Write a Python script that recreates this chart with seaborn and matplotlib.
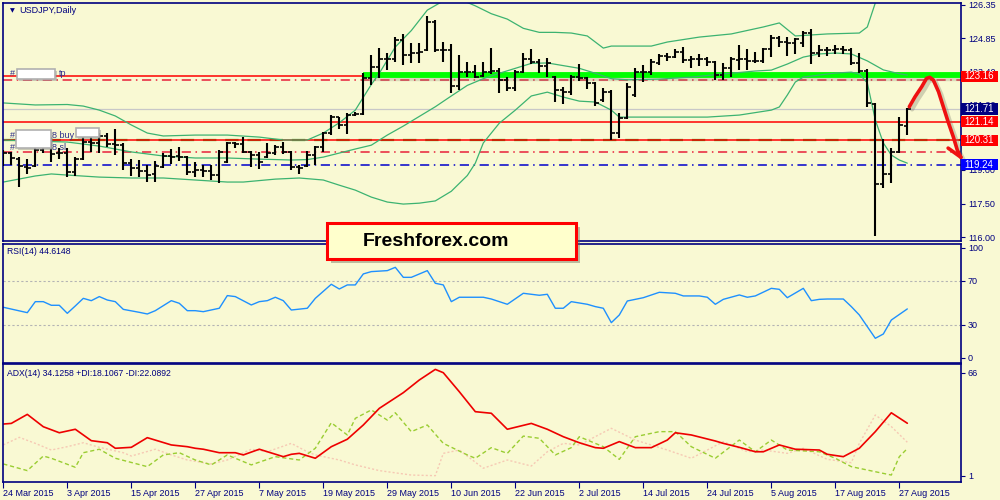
import matplotlib
matplotlib.use("Agg")
import numpy as np
import pandas as pd
import seaborn as sns
import matplotlib.pyplot as plt
from matplotlib.patches import Rectangle
from matplotlib.transforms import blended_transform_factory

# ---- price bars (USDJPY daily, 24 Mar .. 28 Aug 2015) ----
opens = [119.22, 119.74, 119.47, 119.14, 119.19, 119.88, 120.25, 119.74, 119.76, 118.92,
         119.50, 120.24, 120.21, 120.51, 120.15, 120.09, 119.29, 119.10, 118.96, 118.84,
         119.14, 119.62, 119.62, 119.59, 118.92, 118.99, 118.96, 118.77, 119.35, 120.18,
         120.15, 119.81, 119.66, 119.59, 119.74, 120.03, 119.81, 119.14, 119.17, 119.66,
         120.03, 120.63, 121.34, 121.00, 121.44, 121.49, 123.07, 123.59, 123.92, 123.92,
         124.78, 124.11, 124.19, 124.33, 125.60, 124.33, 124.33, 122.73, 123.37, 123.37,
         123.18, 123.37, 123.40, 123.00, 122.63, 123.37, 123.92, 123.82, 123.62, 123.12,
         122.55, 122.48, 123.15, 123.07, 122.85, 122.11, 122.48, 120.65, 121.29, 122.33,
         123.37, 123.37, 123.77, 124.07, 124.01, 124.26, 123.89, 123.92, 123.92, 123.80,
         123.22, 123.52, 123.89, 123.92, 123.86, 123.86, 124.36, 124.85, 124.71, 124.63,
         124.66, 125.11, 124.22, 124.33, 124.33, 124.36, 124.33, 123.77, 123.41, 121.93,
         118.37, 118.82, 119.81, 120.95]
highs = [119.88, 119.81, 119.56, 119.47, 120.03, 120.40, 120.48, 119.96, 119.96, 119.59,
         120.48, 120.70, 120.63, 120.65, 120.80, 120.18, 119.47, 119.44, 119.22, 119.41,
         119.76, 119.91, 120.03, 119.62, 119.36, 119.22, 119.22, 119.88, 120.25, 120.25,
         120.48, 119.85, 119.81, 120.18, 120.09, 120.25, 119.85, 119.22, 119.85, 120.06,
         120.70, 121.44, 121.37, 121.52, 121.58, 123.33, 124.11, 124.41, 124.19, 124.93,
         125.05, 124.63, 124.63, 125.85, 125.67, 124.71, 124.60, 124.11, 123.82, 123.67,
         123.82, 124.41, 123.52, 123.15, 123.44, 124.19, 124.36, 123.92, 123.96, 123.18,
         122.67, 123.22, 123.71, 123.15, 122.92, 122.63, 122.55, 121.52, 122.85, 123.52,
         123.67, 123.92, 124.16, 124.22, 124.36, 124.45, 124.07, 124.16, 124.04, 123.83,
         123.77, 124.04, 124.56, 124.36, 124.26, 124.41, 125.00, 124.96, 124.90, 124.85,
         125.20, 125.25, 124.56, 124.48, 124.56, 124.51, 124.41, 124.19, 123.47, 121.99,
         120.36, 119.96, 121.34, 121.74]
lows = [119.19, 119.22, 118.25, 118.84, 119.14, 119.74, 119.36, 119.47, 118.67, 118.74,
        119.44, 119.81, 119.74, 120.03, 119.66, 118.99, 118.74, 118.70, 118.47, 118.47,
        119.10, 119.26, 119.41, 118.77, 118.70, 118.70, 118.55, 118.43, 119.32, 119.96,
        119.74, 119.14, 119.02, 119.51, 119.65, 119.71, 118.99, 118.84, 119.14, 119.22,
        119.81, 120.55, 120.80, 120.60, 121.41, 121.44, 122.78, 123.07, 123.44, 123.82,
        123.67, 123.74, 123.74, 124.31, 124.26, 123.82, 122.41, 122.55, 123.12, 123.07,
        123.15, 123.27, 122.44, 122.52, 122.52, 123.30, 123.71, 123.30, 123.15, 122.04,
        121.93, 122.33, 122.97, 122.58, 121.84, 122.04, 120.33, 120.40, 121.25, 122.26,
        122.92, 123.22, 123.67, 123.86, 123.96, 123.74, 123.52, 123.62, 123.62, 123.00,
        123.00, 123.12, 123.44, 123.44, 123.74, 123.74, 124.01, 124.48, 124.07, 124.16,
        124.48, 123.71, 124.04, 124.07, 124.16, 124.16, 123.67, 123.33, 121.78, 116.06,
        118.18, 118.40, 119.74, 120.55]
closes = [119.74, 119.51, 119.19, 119.10, 119.88, 120.25, 119.71, 119.76, 118.92, 119.47,
          120.24, 120.21, 120.51, 120.15, 120.09, 119.29, 119.10, 118.96, 118.77, 119.17,
          119.62, 119.59, 119.59, 118.92, 118.99, 118.96, 118.77, 119.81, 120.18, 120.15,
          119.81, 119.66, 119.36, 119.74, 120.03, 119.81, 119.14, 119.07, 119.66, 120.00,
          120.63, 121.34, 121.00, 121.44, 121.49, 123.07, 123.59, 123.92, 123.92, 124.78,
          124.11, 124.19, 124.26, 125.60, 124.33, 124.33, 122.73, 123.37, 123.37, 123.15,
          123.37, 123.40, 123.00, 122.63, 123.37, 123.92, 123.82, 123.62, 123.77, 122.55,
          122.48, 123.15, 123.07, 122.85, 121.96, 122.48, 120.65, 121.29, 122.67, 123.37,
          123.37, 123.82, 124.07, 124.01, 124.26, 123.89, 123.92, 123.92, 123.80, 123.22,
          123.52, 123.92, 123.92, 123.86, 123.86, 124.36, 124.85, 124.71, 124.63, 124.81,
          125.11, 124.22, 124.33, 124.33, 124.36, 124.33, 123.77, 123.41, 121.96, 118.37,
          118.82, 119.81, 121.00, 121.71]

date_ticks = [0, 8, 16, 24, 32, 40, 48, 56, 64, 72, 80, 88, 96, 104, 112]
date_labels = ["24 Mar 2015", "3 Apr 2015", "15 Apr 2015", "27 Apr 2015", "7 May 2015",
               "19 May 2015", "29 May 2015", "10 Jun 2015", "22 Jun 2015", "2 Jul 2015",
               "14 Jul 2015", "24 Jul 2015", "5 Aug 2015", "17 Aug 2015", "27 Aug 2015"]

# ---- Bollinger bands, read at selected bars ----
bb_up_idx = [0, 4, 8, 10, 12, 14, 16, 18, 20, 24, 28, 32, 35, 38, 40, 42, 44, 46, 47, 49, 51,
             53, 55, 56, 57, 58, 59, 61, 63, 65, 67, 69, 71, 73, 75, 76, 81, 83, 87, 91, 95,
             97, 99, 103, 107, 108, 109, 110, 111, 112, 113]
bb_up = [121.98, 121.89, 121.91, 121.84, 121.66, 121.40, 121.00, 120.64, 120.51, 120.55,
         120.55, 120.46, 120.33, 120.33, 120.64, 121.10, 121.66, 122.80, 123.30, 124.47,
         125.20, 126.11, 126.52, 126.80, 126.85, 126.45, 126.30, 125.95, 125.71, 125.30,
         125.12, 125.12, 125.09, 124.96, 124.42, 124.51, 124.51, 124.69, 124.91, 125.05,
         125.36, 125.54, 124.96, 125.05, 125.09, 125.36, 126.43, 127.50, 128.30, 128.90,
         129.40]
bb_mid_idx = [0, 4, 8, 12, 16, 20, 24, 28, 32, 36, 38, 40, 42, 44, 46, 48, 50, 52, 54, 56,
              58, 60, 62, 64, 66, 68, 70, 72, 74, 76, 78, 82, 86, 90, 94, 96, 98, 100, 102,
              104, 106, 108, 110, 112, 113]
bb_mid = [120.33, 120.28, 120.24, 120.06, 119.80, 119.62, 119.53, 119.53, 119.48, 119.44,
          119.46, 119.57, 119.75, 119.93, 120.10, 120.55, 120.95, 121.38, 121.81, 122.29,
          122.76, 123.06, 123.30, 123.52, 123.74, 123.76, 123.64, 123.52, 123.30, 123.06,
          123.01, 123.04, 123.13, 123.27, 123.40, 123.44, 123.71, 124.02, 124.16, 124.20,
          124.16, 123.85, 123.45, 123.28, 123.22]
bb_low_idx = [0, 4, 6, 8, 12, 16, 20, 24, 28, 30, 34, 37, 40, 42, 44, 46, 48, 50, 52, 54,
              56, 58, 59, 60, 62, 64, 66, 68, 70, 72, 74, 76, 77, 80, 88, 92, 96, 97, 98, 99,
              100, 104, 106, 107, 108, 109, 110, 111, 112, 113]
bb_low = [118.46, 118.73, 118.82, 118.77, 118.68, 118.64, 118.64, 118.55, 118.46, 118.46,
          118.59, 118.64, 118.55, 118.32, 118.10, 117.79, 117.57, 117.48, 117.52, 117.62,
          118.05, 118.75, 119.30, 120.20, 121.08, 121.66, 122.29, 122.46, 122.24, 122.06,
          122.02, 121.66, 121.35, 121.35, 121.35, 121.44, 121.66, 121.80, 122.33, 122.91,
          123.13, 123.31, 123.35, 123.27, 122.87, 121.22, 120.20, 119.66, 119.44, 119.30]

# ---- RSI(14) ----
rsi_idx = [0, 3, 4, 5, 6, 7, 8, 9, 10, 11, 12, 13, 14, 15, 17, 18, 19, 21, 22, 23,
           24, 25, 27, 28, 29, 31, 32, 33, 34, 35, 36, 38, 39, 41, 42, 43, 44, 45, 46, 48,
           49, 50, 51, 53, 54, 55, 56, 57, 58, 60, 61, 63, 65, 67, 68, 69, 70, 71, 73, 74,
           75, 76, 77, 78, 80, 82, 84, 85, 87, 88, 89, 90, 92, 93, 94, 96, 97, 98, 100, 101,
           102, 103, 105, 106, 107, 109, 110, 111, 113]
rsi_val = [46.1, 41.2, 51.2, 51.2, 47.9, 47.9, 40.6, 47.3, 54.2, 52.1, 55.8, 52.7, 51.2, 44.2,
           41.5, 40.0, 43.0, 52.1, 49.7, 43.0, 43.0, 42.1, 45.2, 56.7, 55.8, 48.2, 51.2, 52.1,
           55.2, 52.1, 43.6, 45.2, 54.2, 67.0, 62.7, 66.4, 66.4, 76.4, 78.5, 79.4, 82.4, 73.3,
           73.3, 79.4, 67.9, 66.4, 51.2, 55.2, 55.2, 55.2, 53.6, 48.8, 58.8, 57.0, 57.9, 45.2,
           45.2, 51.2, 48.8, 46.7, 45.2, 32.1, 39.1, 51.8, 54.8, 59.7, 58.8, 56.4, 56.4, 55.2,
           48.8, 53.3, 57.3, 55.2, 56.4, 63.3, 62.4, 54.8, 63.3, 52.1, 53.3, 53.6, 53.6, 46.7,
           39.1, 17.9, 21.8, 34.5, 44.6]

# ---- ADX(14), +DI, -DI ----
adx_idx = [0, 1, 3, 5, 7, 9, 11, 13, 14, 16, 18, 21, 23, 24, 25, 27, 29, 30, 32, 35, 36, 37,
           39, 41, 43, 45, 47, 50, 52, 54, 55, 57, 59, 61, 63, 66, 68, 70, 72, 74, 75, 77,
           79, 81, 83, 84, 86, 89, 90, 92, 94, 95, 97, 99, 102, 103, 105, 107, 109, 111, 113]
adx_val = [33.6, 34.0, 39.7, 31.9, 28.1, 30.3, 23.1, 21.8, 18.3, 18.9, 25.0, 20.4, 19.3, 18.3,
           17.7, 15.5, 15.5, 14.1, 17.7, 13.0, 14.5, 15.1, 12.0, 19.3, 24.0, 33.0, 43.5, 53.4,
           61.4, 68.1, 66.0, 54.0, 41.4, 40.4, 30.3, 34.0, 30.3, 25.6, 21.8, 18.7, 18.3, 22.5,
           18.7, 18.7, 23.5, 28.1, 26.7, 22.9, 21.4, 18.9, 16.1, 16.1, 20.4, 17.7, 17.2, 14.5,
           13.0, 18.3, 28.8, 40.7, 34.1]
pdi_idx = [0, 3, 5, 6, 9, 10, 12, 14, 18, 20, 22, 24, 26, 28, 31, 34, 37, 39, 41, 43, 44, 46,
           48, 49, 51, 53, 55, 58, 59, 61, 63, 65, 67, 69, 71, 72, 75, 77, 79, 82, 84, 86, 89,
           92, 94, 96, 98, 102, 104, 106, 109, 111, 112, 113]
pdi_val = [8.4, 4.2, 13.4, 12.0, 6.3, 15.5, 17.7, 12.0, 6.7, 14.1, 15.5, 10.9, 7.8, 14.1, 7.8,
           13.0, 10.9, 18.3, 34.4, 26.7, 37.2, 42.5, 36.1, 40.7, 28.8, 33.0, 21.4, 14.1, 12.0,
           18.7, 15.1, 26.0, 24.6, 14.1, 18.7, 25.6, 19.3, 11.3, 25.6, 28.8, 28.8, 19.3, 12.0,
           23.5, 16.1, 23.5, 17.2, 16.1, 12.0, 6.7, 3.5, 1.4, 13.0, 18.1]
mdi_idx = [0, 2, 4, 6, 8, 10, 12, 15, 16, 19, 21, 23, 26, 28, 31, 33, 36, 38, 39, 42, 44, 47,
           51, 54, 55, 57, 60, 63, 66, 68, 70, 72, 76, 79, 83, 86, 88, 90, 93, 95, 98, 100,
           103, 106, 107, 109, 111, 113]
mdi_val = [20.4, 25.2, 21.4, 17.2, 19.3, 21.8, 18.9, 15.5, 13.4, 17.7, 14.1, 10.9, 8.4, 10.9,
           17.7, 16.1, 21.4, 16.1, 14.1, 10.9, 7.8, 4.2, 1.4, 1.0, 15.1, 17.2, 5.7, 10.9, 7.1,
           16.1, 21.4, 20.4, 30.9, 23.5, 17.2, 12.0, 17.2, 22.5, 16.1, 17.2, 15.1, 18.3, 11.3,
           9.2, 21.4, 39.3, 32.0, 22.1]

# ---- horizontal levels ----
level_box = [123.16, 121.71, 121.14, 120.31, 119.24]
level_box_colors = ["#FF0000", "#000080", "#FF0000", "#FF0000", "#0000FF"]
resist_level = 123.24
tp_level = 122.99
sl_level = 119.78
price_ticks = [126.35, 124.85, 123.40, 121.90, 120.45, 119.00, 117.50, 116.00]

# hand drawn forecast arrow (bar index, price)
arrow_x = [113.25, 113.96, 114.8, 115.4, 115.8, 116.25, 116.9, 117.5, 118.1, 118.75, 119.25, 119.7]
arrow_y = [121.81, 122.25, 122.70, 123.07, 123.12, 123.0, 122.48, 121.81, 121.14, 120.47, 119.88, 119.56]
arrow_wing_x = [118.1, 119.7]
arrow_wing_y = [119.97, 119.56]

BG = "#F9F9D3"
NAVY = "#000080"
TXT = "#2E2E8E"

sns.set_style("white")
plt.rcParams["font.family"] = ["Liberation Sans", "DejaVu Sans"]
plt.rcParams["axes.facecolor"] = BG

bars = pd.DataFrame({"o": opens, "h": highs, "l": lows, "c": closes})
bars["i"] = np.arange(len(bars))

fig = plt.figure(figsize=(10, 5), dpi=100, facecolor=BG)

def rect(top, bottom):
    return [2.7 / 1000, 1 - bottom / 500, 958.3 / 1000, (bottom - top) / 500]

ax1 = fig.add_axes(rect(2.7, 240.7))
ax2 = fig.add_axes(rect(244.0, 362.5))
ax3 = fig.add_axes(rect(364.0, 481.7))
xlim = (-0.075, 119.71)

for ax in (ax1, ax2, ax3):
    ax.set_facecolor(BG)
    ax.set_xlim(*xlim)
    for s in ax.spines.values():
        s.set_color(NAVY)
        s.set_linewidth(1.2)
    ax.yaxis.tick_right()
    ax.tick_params(axis="y", colors=NAVY, labelcolor=NAVY, length=3, width=0.8,
                   labelsize=6.5, pad=2, direction="out")
    ax.tick_params(axis="x", bottom=False, labelbottom=False)
    ax.set_xlabel("")
    ax.set_ylabel("")

# ---------- price panel ----------
ax1.set_ylim(115.85, 126.44)
ax1.set_yticks(price_ticks)
ax1.set_yticklabels([f"{v:.2f}" for v in price_ticks])

for lv, col, ls in [(tp_level, "#E8203A", (0, (6, 3, 1, 3))),
                    (sl_level, "#E8203A", (0, (6, 3, 1, 3))),
                    (119.24, "#0000CC", (0, (6, 3, 1, 3)))]:
    ax1.axhline(lv, color=col, lw=1.1, ls=ls, zorder=1.5)
ax1.axhline(120.31, color="#22AA22", lw=1.6, ls=(0, (6, 4)), zorder=1.5)
for lv in (123.16, 121.14, 120.31):
    ax1.axhline(lv, color="#FF0000", lw=1.1, zorder=1.6)
ax1.axhline(121.71, color="#C8C8C8", lw=0.9, zorder=1.4)

# resistance zone with soft shadow
ax1.hlines(resist_level - 0.12, 44.9, xlim[1], color="#808070", lw=6, alpha=0.25, zorder=1.7)
ax1.hlines(resist_level, 44.9, xlim[1], color="#00FF00", lw=4.2, zorder=1.8)

for yv, xv in [(bb_up, bb_up_idx), (bb_mid, bb_mid_idx), (bb_low, bb_low_idx)]:
    sns.lineplot(x=xv, y=yv, ax=ax1, color="#3CB371", lw=0.9, zorder=2)

ax1.vlines(bars["i"], bars["l"], bars["h"], color="black", lw=1.5, zorder=3)
ax1.hlines(bars["o"], bars["i"] - 0.4, bars["i"], color="black", lw=1.2, zorder=3)
ax1.hlines(bars["c"], bars["i"], bars["i"] + 0.4, color="black", lw=1.2, zorder=3)

# arrow with shadow
ax1.plot(np.array(arrow_x) + 0.35, np.array(arrow_y) - 0.12, color="#707060", lw=3,
         alpha=0.3, clip_on=False, zorder=4, solid_capstyle="round")
ax1.plot(arrow_x, arrow_y, color="#EE1111", lw=2.6, clip_on=False, zorder=5,
         solid_capstyle="round", solid_joinstyle="round")
ax1.plot(arrow_wing_x, arrow_wing_y, color="#EE1111", lw=2.6, clip_on=False, zorder=5,
         solid_capstyle="round")

# level boxes on the right scale
tr = blended_transform_factory(ax1.transAxes, ax1.transData)
half = 5.6 / 22.47
bw = 37 / 958.3
for lv, col in zip(level_box, level_box_colors):
    ax1.add_patch(Rectangle((1.0, lv - half), bw, 2 * half, transform=tr, facecolor=col,
                            edgecolor="none", clip_on=False, zorder=6))
    ax1.text(1.0 + 3.5 / 958.3, lv, f"{lv:.2f}", transform=tr, color="white", fontsize=7,
             va="center", ha="left", zorder=7, clip_on=False)

ax1.text(7 / 958.3, 1 - 8 / 238, "\u25BC", transform=ax1.transAxes, fontsize=4.5,
         color=NAVY, va="center", ha="left", family="DejaVu Sans")
ax1.text(17 / 958.3, 1 - 8 / 238, "USDJPY,Daily", transform=ax1.transAxes, fontsize=6.5,
         color=NAVY, va="center", ha="left")

# ---------- RSI panel ----------
ax2.set_ylim(-4.1, 103.6)
ax2.set_yticks([0, 30, 70, 100])
for lv in (30, 70):
    ax2.axhline(lv, color="#B4B4B4", lw=0.8, ls=(0, (2, 2)))
sns.lineplot(x=rsi_idx, y=rsi_val, ax=ax2, color="#1E90FF", lw=1.0)
ax2.text(4.5 / 958.3, 1 - 8 / 118.5, "RSI(14) 44.6148", transform=ax2.transAxes,
         fontsize=6.2, color=NAVY, va="center", ha="left")

# ---------- ADX panel ----------
ax3.set_ylim(-2.8, 71.5)
ax3.set_yticks([1, 66])
sns.lineplot(x=mdi_idx, y=mdi_val, ax=ax3, color="#F6C9B4", lw=1.0, linestyle=(0, (1.5, 1.5)))
sns.lineplot(x=pdi_idx, y=pdi_val, ax=ax3, color="#9ACD32", lw=1.0, linestyle=(0, (3, 2)))
sns.lineplot(x=adx_idx, y=adx_val, ax=ax3, color="#EE0000", lw=1.2)
ax3.text(4.5 / 958.3, 1 - 9 / 117.7, "ADX(14) 34.1258 +DI:18.1067 -DI:22.0892",
         transform=ax3.transAxes, fontsize=6.2, color=NAVY, va="center", ha="left")

ax3.tick_params(axis="x", bottom=True, labelbottom=True, colors=NAVY, labelcolor=NAVY,
                length=4, width=0.8, labelsize=6.5, pad=1.5, direction="out")
ax3.set_xticks(date_ticks)
ax3.set_xticklabels(date_labels)
for lab in ax3.get_xticklabels():
    lab.set_ha("left")
for ax in (ax1, ax2, ax3):
    ax.set_xlim(*xlim)

# ---------- order labels (numbers hidden) ----------
def fx(px):
    return px / 1000

def fy(py):
    return 1 - py / 500

def white_box(x0, y0, x1, y1):
    fig.patches.append(Rectangle((fx(x0) + 0.002, fy(y1) - 0.004), fx(x1 - x0), (y1 - y0) / 500,
                                 transform=fig.transFigure, facecolor="#909090", alpha=0.45,
                                 edgecolor="none", zorder=8))
    fig.patches.append(Rectangle((fx(x0), fy(y1)), fx(x1 - x0), (y1 - y0) / 500,
                                 transform=fig.transFigure, facecolor="white",
                                 edgecolor="#B0B0B0", lw=1.2, zorder=9))

for x, y, s in [(10, 74, "#"), (59, 74, "tp"), (10, 135, "#"), (52, 135, "8 buy"),
                (10, 147, "#"), (52, 147, "8 sl")]:
    fig.text(fx(x), fy(y), s, fontsize=6.5, color=TXT, va="center", ha="left", zorder=7)
white_box(17, 69, 55, 79)
white_box(16, 130, 51, 148)
white_box(76, 128, 99, 137)

# ---------- watermark box ----------
fig.patches.append(Rectangle((fx(331), fy(263)), fx(249), 36 / 500, transform=fig.transFigure,
                             facecolor="#707060", alpha=0.45, edgecolor="none", zorder=10))
fig.patches.append(Rectangle((fx(327), fy(259)), fx(249), 36 / 500, transform=fig.transFigure,
                             facecolor="#FFFFCC", edgecolor="#FF0000", lw=2.2, zorder=11))
fig.text(fx(363), fy(241.5), "Freshforex.com", fontsize=14, fontweight="bold", color="black",
         va="center", ha="left", zorder=12)

fig.savefig("out.png", dpi=100, facecolor=BG)
